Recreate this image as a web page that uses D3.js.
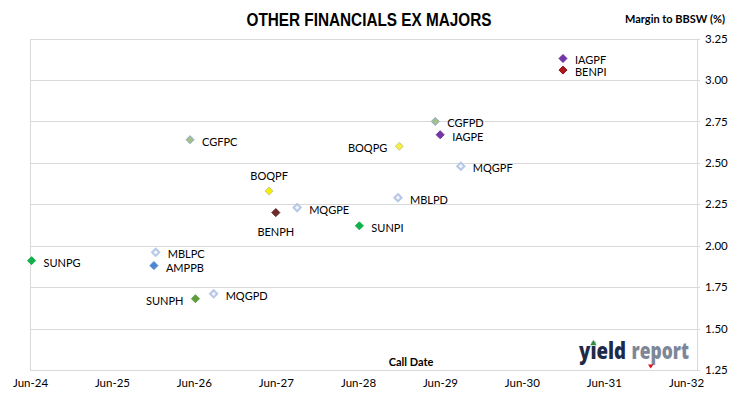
<!DOCTYPE html>
<html><head><meta charset="utf-8">
<script src="https://cdn.jsdelivr.net/npm/d3@7/dist/d3.min.js"></script>
<style>
html,body{margin:0;padding:0;background:#fff;}
svg{display:block;}
text{font-family:Lato,"Noto Sans",sans-serif;fill:#000;}
</style></head>
<body>
<svg id="chart" width="730" height="399"></svg>
<script>
// ---- data ----
const securities = ["SUNPG","CGFPC","BOQPF","BENPH","MQGPE","SUNPI","MBLPC","AMPPB","SUNPH","MQGPD","IAGPF","BENPI","CGFPD","IAGPE","BOQPG","MQGPF","MBLPD"];
const callDates  = ["2024-06-08","2026-05-15","2027-05-02","2027-06-01","2027-09-04","2028-06-07","2025-12-13","2025-12-05","2026-06-08","2026-08-28","2030-12-01","2030-12-01","2029-05-11","2029-06-02","2028-12-02","2029-09-02","2028-11-26"];
const margins    = [1.91,2.64,2.33,2.20,2.23,2.12,1.96,1.88,1.68,1.71,3.13,3.06,2.75,2.67,2.60,2.48,2.29];
const yTickValues = [1.25,1.50,1.75,2.00,2.25,2.50,2.75,3.00,3.25];
const xTickDates  = ["2024-06-01","2025-06-01","2026-06-01","2027-06-01","2028-06-01","2029-06-01","2030-06-01","2031-06-01","2032-06-01"];

// ---- styling (not data) ----
const hollow = {stroke:"#b7c8e6", fill:"#f4f7fc", sw:2, r:3.6};
const styleMap = {
  SUNPG:{fill:"#14b04a",stroke:"#14b04a"}, SUNPI:{fill:"#14b04a",stroke:"#14b04a"},
  SUNPH:{fill:"#5e9e3e",stroke:"#5e9e3e"},
  CGFPC:{fill:"#a6bf86",stroke:"#86a9c9"}, CGFPD:{fill:"#a6bf86",stroke:"#86a9c9"},
  BOQPF:{fill:"#f5f000",stroke:"#c8c890"}, BOQPG:{fill:"#f5f040",stroke:"#c8c890"},
  BENPH:{fill:"#6e2a2a",stroke:"#5a2020"}, BENPI:{fill:"#b01818",stroke:"#901010"},
  IAGPF:{fill:"#7535a8",stroke:"#6a2f98"}, IAGPE:{fill:"#7535a8",stroke:"#6a2f98"},
  AMPPB:{fill:"#4f86d0",stroke:"#4f86d0"},
  MBLPC:hollow, MBLPD:hollow, MQGPE:hollow, MQGPD:hollow, MQGPF:hollow
};
const labelPlacement = {BOQPF:"above", BENPH:"below", SUNPH:"left", BOQPG:"left"};

const svg = d3.select("#chart");
const parse = d3.utcParse("%Y-%m-%d");
const plotL = 30, plotR = 697, plotT = 38.6, plotB = 370;

const x = d3.scaleUtc().domain([parse("2024-06-01"), parse("2032-07-20")]).range([plotL, plotR]);
const y = d3.scaleLinear().domain([1.25, 3.25]).range([plotB, plotT]);

// gridlines
svg.append("g").selectAll("line").data(yTickValues).join("line")
  .attr("x1", plotL).attr("x2", plotR + 3)
  .attr("y1", d => Math.round(y(d)) + 0.5).attr("y2", d => Math.round(y(d)) + 0.5)
  .attr("stroke", "#d9d9d9").attr("stroke-width", 1);
// left & right axis lines
[plotL, plotR].forEach(px => svg.append("line")
  .attr("x1", Math.round(px) + 0.5).attr("x2", Math.round(px) + 0.5)
  .attr("y1", Math.round(plotT)).attr("y2", plotB + 0.5)
  .attr("stroke", "#d9d9d9"));

// right y axis labels
const yAxis = d3.axisRight(y).tickValues(yTickValues).tickFormat(d3.format(".2f")).tickSize(0).tickPadding(8);
const gy = svg.append("g").attr("transform", `translate(${plotR},0)`).call(yAxis);
gy.select(".domain").remove();
gy.selectAll("text").style("font-family", "Lato, sans-serif").style("font-size", "11.5px").attr("fill", "#000");

// bottom x axis labels
const xAxis = d3.axisBottom(x).tickValues(xTickDates.map(parse)).tickFormat(d3.utcFormat("%b-%y")).tickSize(0).tickPadding(9);
const gx = svg.append("g").attr("transform", `translate(0,${plotB})`).call(xAxis);
gx.select(".domain").remove();
gx.selectAll("text").style("font-family", "Lato, sans-serif").style("font-size", "11.5px").attr("fill", "#000");

// title
svg.append("text").attr("x", 369).attr("y", 26).attr("text-anchor", "middle")
  .attr("textLength", 245).attr("lengthAdjust", "spacingAndGlyphs")
  .style("font-family", "'Liberation Sans', sans-serif").style("font-weight", "bold").style("font-size", "17.5px")
  .text("OTHER FINANCIALS EX MAJORS");
svg.append("text").attr("x", 725).attr("y", 23).attr("text-anchor", "end")
  .attr("textLength", 100).attr("lengthAdjust", "spacingAndGlyphs")
  .style("font-size", "11px").style("font-weight", "bold")
  .text("Margin to BBSW (%)");
svg.append("text").attr("x", 411).attr("y", 366).attr("text-anchor", "middle")
  .style("font-size", "11px").style("font-weight", "bold")
  .text("Call Date");

// logo
const logoFont = t => t.style("font-family", "'Open Sans', sans-serif").style("font-weight", "800").style("font-size", "23px")
  .attr("lengthAdjust", "spacingAndGlyphs");
const logo1 = svg.append("text").attr("x", 579).attr("y", 359).attr("textLength", 47)
  .attr("fill", "#1e2a4a").style("fill", "#1e2a4a").call(logoFont).text("yield");
svg.append("text").attr("x", 631.5).attr("y", 359).attr("textLength", 57.5)
  .attr("fill", "#7d8797").style("fill", "#7d8797").call(logoFont).text("report");
let iBox;
try { iBox = logo1.node().getExtentOfChar(1); } catch (e) { iBox = {x: 591, width: 6}; }
const ix = iBox.x + iBox.width / 2;
svg.append("path").attr("d", `M${ix},339.5 L${ix + 3.5},345.5 L${ix - 3.5},345.5 Z`).attr("fill", "#2e8b3a")
  .attr("stroke", "#fff").attr("stroke-width", 0.5);
svg.append("path").attr("d", "M648,364.5 L653.5,364.5 L650.7,368.5 Z").attr("fill", "#e0101a");

// points
const pts = securities.map((s, i) => ({name: s, date: parse(callDates[i]), v: margins[i]}));
const diamond = r => `M0,${-r} L${r},0 L0,${r} L${-r},0 Z`;
const g = svg.append("g");
g.selectAll("path.pt").data(pts).join("path").attr("class", "pt")
  .attr("transform", d => `translate(${x(d.date)},${y(d.v)})`)
  .attr("d", d => diamond(styleMap[d.name].r || 4))
  .attr("fill", d => styleMap[d.name].fill)
  .attr("stroke", d => styleMap[d.name].stroke)
  .attr("stroke-width", d => styleMap[d.name].sw || 1);

g.selectAll("text.lbl").data(pts).join("text").attr("class", "lbl")
  .style("font-size", "11px")
  .attr("dominant-baseline", "central")
  .attr("text-anchor", d => {
    const p = labelPlacement[d.name];
    return p === "left" ? "end" : (p === "above" || p === "below") ? "middle" : "start";
  })
  .attr("x", d => {
    const p = labelPlacement[d.name];
    const cx = x(d.date);
    return p === "left" ? cx - 12 : (p === "above" || p === "below") ? cx : cx + 12;
  })
  .attr("y", d => {
    const p = labelPlacement[d.name];
    const cy = y(d.v);
    return p === "above" ? cy - 16 : p === "below" ? cy + 19 : cy + 1.5;
  })
  .text(d => d.name);
</script>
</body></html>
